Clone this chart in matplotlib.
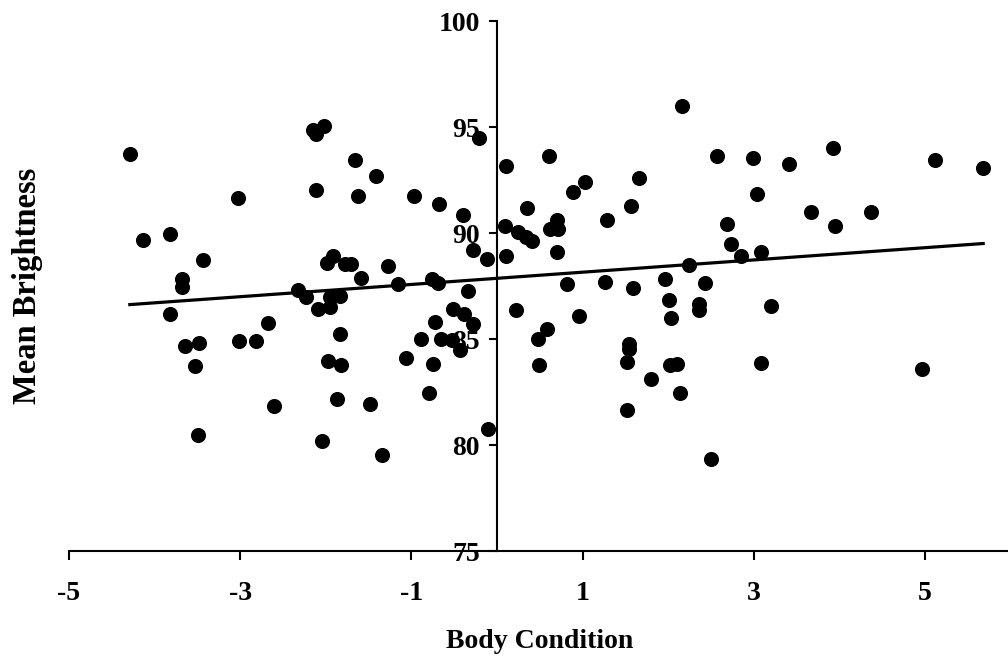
import numpy as np
import matplotlib
matplotlib.use('Agg')
import matplotlib.pyplot as plt

###===== DATA =====####
# Body condition (x) and mean brightness (y)
body_condition = [
    -4.29, -3.03, -2.15, -2.02, -2.11, -1.66, -1.41, -2.11, -1.62, -4.14,
    -3.82, -3.44, -3.68, -3.68, -1.99, -1.92, -1.78, -1.71, -1.27, -1.59,
    -1.16, -2.32, -2.23, -1.95, -1.84, -2.09, -1.95, -3.82, -2.67, -1.83,
    -3.64, -3.48, -3.02, -2.81, -3.53, -1.97, -1.82, -1.87, -1.48, -2.60,
    -3.49, -2.04, -1.34, -0.21, 0.11, 0.61, -0.97, -0.68, -0.40, 0.89,
    1.03, 1.66, 0.35, 1.56, 1.28, 0.09, 0.25, 0.34, 0.41, 0.62,
    0.70, 0.71, -0.28, -0.12, 0.11, 0.70, 2.16, -0.76, -0.69, -0.34,
    0.82, 1.26, 1.59, 1.96, 2.01, 2.03, 0.22, 0.96, -0.52, -0.39,
    -0.28, -0.73, -0.89, -0.66, -0.53, -0.43, -1.06, -0.75, -0.80, -0.10,
    0.48, 0.58, 0.49, 1.54, 1.54, 1.52, 1.80, 1.52, 2.02, 2.10,
    2.14, 2.57, 2.99, 3.41, 3.92, 5.12, 5.68, 3.04, 3.67, 4.37,
    3.95, 2.69, 2.73, 2.85, 3.08, 2.24, 2.43, 2.36, 2.36, 3.20,
    3.08, 4.96, 2.50,
]
mean_brightness = [
    93.73, 91.65, 94.86, 95.06, 94.67, 93.44, 92.69, 92.03, 91.75, 89.67,
    89.95, 88.73, 87.82, 87.47, 88.60, 88.92, 88.54, 88.54, 88.44, 87.88,
    87.60, 87.34, 87.00, 87.00, 87.03, 86.44, 86.52, 86.18, 85.79, 85.24,
    84.67, 84.84, 84.93, 84.93, 83.73, 84.00, 83.81, 82.20, 81.93, 81.84,
    80.50, 80.22, 79.56, 94.47, 93.16, 93.63, 91.75, 91.37, 90.88, 91.93,
    92.42, 92.59, 91.18, 91.27, 90.61, 90.33, 90.06, 89.83, 89.64, 90.22,
    90.64, 90.22, 89.20, 88.80, 88.92, 89.10, 95.99, 87.82, 87.66, 87.28,
    87.60, 87.69, 87.42, 87.86, 86.84, 86.00, 86.37, 86.10, 86.44, 86.18,
    85.71, 85.82, 85.03, 85.03, 84.95, 84.48, 84.13, 83.82, 82.49, 80.79,
    85.00, 85.50, 83.81, 84.80, 84.56, 83.92, 83.14, 81.65, 83.81, 83.85,
    82.49, 93.63, 93.54, 93.27, 94.01, 93.44, 93.08, 91.84, 90.99, 90.99,
    90.35, 90.42, 89.48, 88.93, 89.12, 88.52, 87.63, 86.68, 86.37, 86.56,
    83.90, 83.62, 79.37,
]

x_ticks = [-5, -3, -1, 1, 3, 5]
x_tick_labels = ['-5', '-3', '-1', '1', '3', '5']
y_ticks = [75, 80, 85, 90, 95, 100]
y_tick_labels = ['75', '80', '85', '90', '95', '100']


###===== PLOT =====####
plt.rcParams['font.family'] = ['Liberation Serif', 'DejaVu Serif']
plt.rcParams['font.weight'] = 'bold'

x = np.asarray(body_condition)
y = np.asarray(mean_brightness)

fig = plt.figure(figsize=(10.08, 6.65), dpi=100)
ax = fig.add_axes([0.0685, 0.1707, 0.9315, 0.7977])

ax.scatter(x, y, s=118, color='black', zorder=3, linewidths=0)

# Linear trend line over the data range
slope, intercept = np.polyfit(x, y, 1)
xFit = np.array([x.min(), x.max()])
ax.plot(xFit, slope * xFit + intercept, color='black', lw=2.3, zorder=2)

ax.set_xlim(-5, 5.97)
ax.set_ylim(75, 100)

# Axes cross at x = 0
ax.spines['left'].set_position(('data', 0))
ax.spines['top'].set_visible(False)
ax.spines['right'].set_visible(False)
for side in ['left', 'bottom']:
    ax.spines[side].set_linewidth(1.5)

ax.set_xticks(x_ticks)
ax.set_xticklabels(x_tick_labels, fontsize=20, fontweight='bold')
ax.set_yticks(y_ticks)
ax.set_yticklabels(y_tick_labels, fontsize=20, fontweight='bold')
ax.tick_params(axis='x', direction='out', length=6.5, width=1.5, pad=15)
ax.tick_params(axis='y', direction='out', length=5.5, width=1.5, pad=7)

fig.text(540 / 1008, 1 - 641 / 665, 'Body Condition', ha='center', va='center',
         fontsize=20, fontweight='bold')
fig.text(28 / 1008, 1 - 286 / 665, 'Mean Brightness', ha='center', va='center',
         rotation=90, fontsize=23.5, fontweight='bold')

fig.savefig('out.png', dpi=100)
